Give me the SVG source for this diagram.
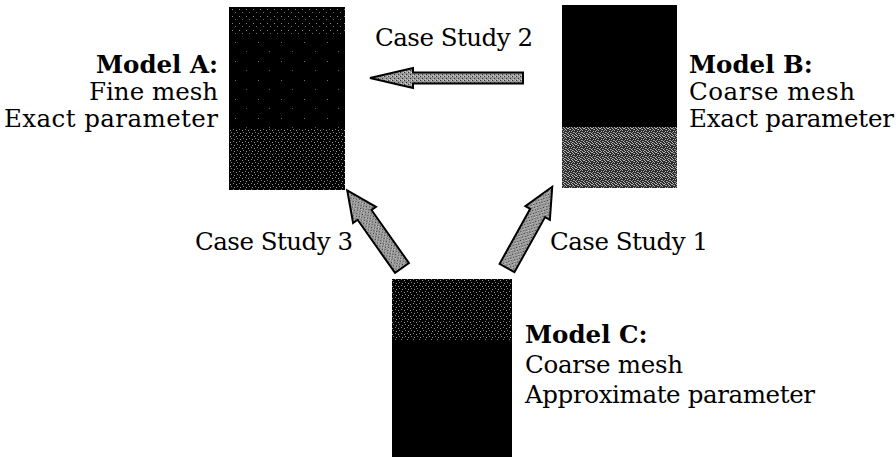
<svg xmlns="http://www.w3.org/2000/svg" width="896" height="457" viewBox="0 0 896 457">
  <style>
    .lbl { font-family: "DejaVu Serif", "Liberation Serif", serif; font-size: 24.5px; fill: #000; }
    .ttl { font-weight: bold; }
    .arrow { fill: url(#stipple); stroke: #000; stroke-width: 2; stroke-linejoin: miter; }
  </style>
  <defs>
    <!-- sparse speckle on black: lightly refined areas of a mesh -->
    <pattern id="speck" width="7" height="7" patternUnits="userSpaceOnUse">
      <rect width="7" height="7" fill="#000"/>
      <rect x="1" y="2" width="1" height="1" fill="#8a8a8a"/>
      <rect x="4" y="5" width="1" height="1" fill="#6a6a6a"/>
    </pattern>
    <!-- very sparse speckle for the mostly solid parts -->
    <pattern id="faint" width="23" height="19" patternUnits="userSpaceOnUse">
      <rect width="23" height="19" fill="#000"/>
      <rect x="5" y="4" width="1" height="1" fill="#707070"/>
      <rect x="16" y="13" width="1" height="1" fill="#5a5a5a"/>
    </pattern>
    <!-- denser dot field -->
    <pattern id="dots" width="6" height="6" patternUnits="userSpaceOnUse">
      <rect width="6" height="6" fill="#000"/>
      <rect x="0" y="1" width="1" height="1" fill="#9a9a9a"/>
      <rect x="3" y="0" width="1" height="1" fill="#7a7a7a"/>
      <rect x="2" y="4" width="1" height="1" fill="#a0a0a0"/>
      <rect x="5" y="3" width="1" height="1" fill="#808080"/>
    </pattern>
    <!-- coarse grey mesh -->
    <pattern id="mesh" width="8" height="8" patternUnits="userSpaceOnUse">
      <rect width="8" height="8" fill="#2a2a2a"/>
      <path d="M0 0h1v1h-1zM2 1h1v1h-1zM4 0h1v1h-1zM6 2h1v1h-1zM1 3h1v1h-1zM3 3h1v1h-1zM5 4h1v1h-1zM7 5h1v1h-1zM0 6h1v1h-1zM2 5h1v1h-1zM4 6h1v1h-1zM6 7h1v1h-1zM3 7h1v1h-1zM7 0h1v1h-1zM5 1h1v1h-1zM1 7h1v1h-1z" fill="#b8b8b8"/>
      <path d="M1 1h1v1h-1zM3 5h1v1h-1zM6 4h1v1h-1zM0 4h1v1h-1zM5 6h1v1h-1zM4 2h1v1h-1z" fill="#888"/>
    </pattern>
    <!-- stippled grey for the arrow bodies -->
    <pattern id="stipple" width="4" height="4" patternUnits="userSpaceOnUse">
      <rect width="4" height="4" fill="#9a9a9a"/>
      <rect x="0" y="0" width="1" height="1" fill="#333"/>
      <rect x="2" y="2" width="1" height="1" fill="#333"/>
      <rect x="3" y="0" width="1" height="1" fill="#d0d0d0"/>
      <rect x="1" y="3" width="1" height="1" fill="#d0d0d0"/>
    </pattern>
  </defs>

  <rect width="896" height="457" fill="#fff"/>

  <!-- Model A: fine mesh, exact parameter -->
  <g id="modelA">
    <rect x="229" y="7" width="116" height="183" fill="url(#faint)"/>
    <rect x="229" y="7" width="116" height="28" fill="url(#speck)"/>
    <rect x="229" y="128" width="116" height="62" fill="url(#dots)"/>
    <text class="lbl ttl" x="218" y="73" text-anchor="end">Model A:</text>
    <text class="lbl" x="218" y="100" text-anchor="end">Fine mesh</text>
    <text class="lbl" x="218" y="127" text-anchor="end" textLength="214">Exact parameter</text>
  </g>

  <!-- Model B: coarse mesh, exact parameter -->
  <g id="modelB">
    <rect x="562" y="5" width="115" height="183" fill="#000"/>
    <rect x="562" y="127" width="115" height="61" fill="url(#mesh)"/>
    <text class="lbl ttl" x="689" y="73">Model B:</text>
    <text class="lbl" x="689" y="100" textLength="166">Coarse mesh</text>
    <text class="lbl" x="689" y="127" textLength="205">Exact parameter</text>
  </g>

  <!-- Model C: coarse mesh, approximate parameter -->
  <g id="modelC">
    <rect x="392" y="279" width="120" height="178" fill="#000"/>
    <rect x="392" y="279" width="120" height="61" fill="url(#dots)"/>
    <text class="lbl ttl" x="525" y="343">Model C:</text>
    <text class="lbl" x="525" y="373" textLength="158">Coarse mesh</text>
    <text class="lbl" x="525" y="403" textLength="290">Approximate parameter</text>
  </g>

  <!-- case-study arrows -->
  <g id="connectors">
    <!-- B to A -->
    <polygon class="arrow" points="370,78 413,68 413,72.5 523,72.5 523,83.5 413,83.5 413,88"/>
    <text class="lbl" x="375" y="46" textLength="158">Case Study 2</text>
    <!-- C to A -->
    <polygon class="arrow" transform="translate(402,268) rotate(-125.2)" points="0,-8.5 65,-8.5 65,-14 95,0 65,14 65,8.5 0,8.5"/>
    <text class="lbl" x="353" y="250" text-anchor="end" textLength="158">Case Study 3</text>
    <!-- C to B -->
    <polygon class="arrow" transform="translate(507,268) rotate(-60.9)" points="0,-8.5 63,-8.5 63,-14 93,0 63,14 63,8.5 0,8.5"/>
    <text class="lbl" x="550" y="250" textLength="158">Case Study 1</text>
  </g>
</svg>
